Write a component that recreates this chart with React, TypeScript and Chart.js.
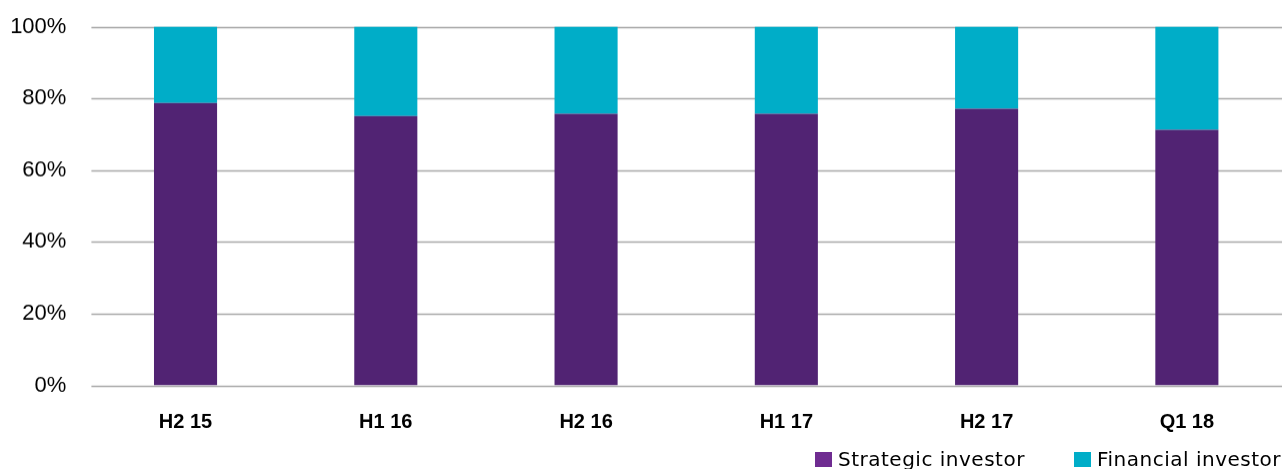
import React, { useEffect, useRef } from "react";
import { Chart, registerables } from "chart.js";

Chart.register(...registerables);

const categories = ["H2 15", "H1 16", "H2 16", "H1 17", "H2 17", "Q1 18"];
const strategicValues = [78.7, 75.1, 75.7, 75.7, 77.1, 71.2];
const financialValues = [21.3, 24.9, 24.3, 24.3, 22.9, 28.8];
const seriesNames = ["Strategic investor", "Financial investor"];
const barColors = ["#512373", "#00adc8"];
const legendColors = ["#6f2c91", "#00adc8"];

const gridPlugin = {
  id: "customGrid",
  beforeDatasetsDraw(chart: any) {
    const { ctx, chartArea, scales } = chart;
    const y = scales.y;
    ctx.save();
    ctx.strokeStyle = "#a9a9a9";
    ctx.lineWidth = 1.5;
    y.ticks.forEach((t: any) => {
      const py = Math.round(y.getPixelForValue(t.value)) + 0.5;
      ctx.beginPath();
      ctx.moveTo(chartArea.left + 6, py);
      ctx.lineTo(chart.width, py);
      ctx.stroke();
    });
    ctx.restore();
  },
};

export default function App() {
  const ref = useRef<HTMLCanvasElement>(null);
  useEffect(() => {
    if (!ref.current) return;
    const chart = new Chart(ref.current, {
      type: "bar",
      data: {
        labels: categories,
        datasets: [
          { label: seriesNames[0], data: strategicValues, backgroundColor: barColors[0] },
          { label: seriesNames[1], data: financialValues, backgroundColor: barColors[1] },
        ],
      },
      options: {
        animation: false,
        responsive: true,
        maintainAspectRatio: false,
        layout: { padding: { top: 0, right: 13, left: 0, bottom: 0 } },
        datasets: { bar: { barPercentage: 0.315, categoryPercentage: 1 } },
        plugins: { legend: { display: false }, tooltip: { enabled: false } },
        scales: {
          x: {
            stacked: true,
            grid: { display: false },
            border: { display: false },
            ticks: {
              color: "#000",
              padding: 16.5,
              font: { family: "'Liberation Sans', Arial, sans-serif", size: 20, weight: "bold" },
            },
          },
          y: {
            stacked: true,
            min: 0,
            max: 100,
            grid: { display: false, drawTicks: false },
            border: { display: false },
            afterFit(scale: any) {
              scale.width = 85.4;
            },
            ticks: {
              stepSize: 20,
              padding: 19,
              color: "#000",
              font: { family: "'Liberation Sans', Arial, sans-serif", size: 22, lineHeight: 15 / 22 },
              callback: (v: any) => v + "%",
            },
          },
        },
      },
      plugins: [gridPlugin],
    });
    return () => chart.destroy();
  }, []);

  return (
    <div style={{ position: "absolute", left: 0, top: 0, width: 1282, height: 469, overflow: "hidden", background: "#fff" }}>
      <div style={{ position: "absolute", left: 0, top: 0, width: 1300, height: 449.5 }}>
        <canvas ref={ref} />
      </div>
      {seriesNames.map((name, i) => (
        <div
          key={name}
          style={{
            position: "absolute",
            left: i === 0 ? 815 : 1074,
            top: 449,
            whiteSpace: "nowrap",
            display: "flex",
            alignItems: "flex-start",
          }}
        >
          <span style={{ display: "inline-block", width: 17, height: 15, marginTop: 3, background: legendColors[i] }} />
          <span
            style={{
              marginLeft: 6,
              fontFamily: "'DejaVu Sans', sans-serif",
              fontSize: 20,
              lineHeight: "20px",
              letterSpacing: "0.5px",
              color: "#000",
            }}
          >
            {name}
          </span>
        </div>
      ))}
    </div>
  );
}
